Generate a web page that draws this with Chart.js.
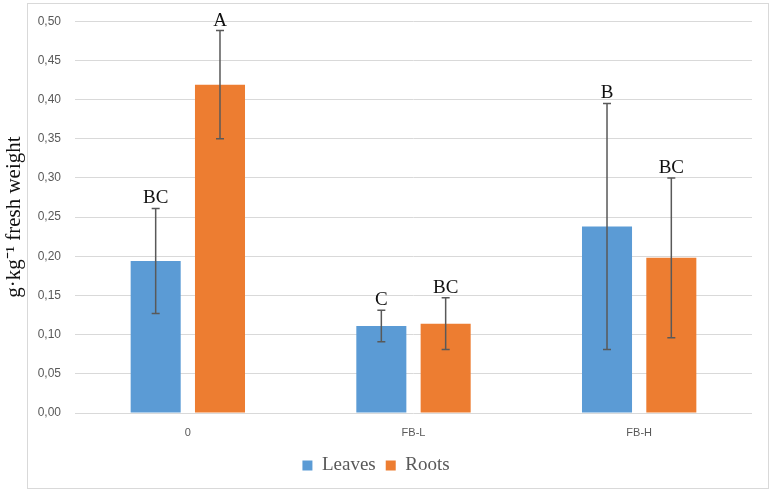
<!DOCTYPE html>
<html>
<head>
<meta charset="utf-8">
<script src="https://cdn.jsdelivr.net/npm/chart.js@4/dist/chart.umd.min.js"></script>
<style>
  html, body { margin: 0; padding: 0; background: #fff; }
  #wrap { width: 773px; height: 492px; position: relative; }
</style>
</head>
<body>
<div id="wrap"><canvas id="chart" width="773" height="492"></canvas></div>
<script>
const categories = ["0", "FB-L", "FB-H"];
const leaves = [0.194, 0.111, 0.238];
const roots = [0.419, 0.114, 0.198];
const leavesErr = [0.067, 0.020, 0.157];
const rootsErr = [0.069, 0.033, 0.102];
const leavesLetters = ["BC", "C", "B"];
const rootsLetters = ["A", "BC", "BC"];

// error bars + significance letters on top of each bar
const errorBars = {
  id: "errorBars",
  afterDatasetsDraw(chart) {
    const ctx = chart.ctx;
    const y = chart.scales.y;
    chart.data.datasets.forEach((ds, i) => {
      const meta = chart.getDatasetMeta(i);
      meta.data.forEach((bar, j) => {
        const v = ds.data[j];
        const e = ds.errors[j];
        const top = y.getPixelForValue(v + e);
        const bot = y.getPixelForValue(v - e);
        ctx.save();
        ctx.strokeStyle = "#595959";
        ctx.lineWidth = 1.5;
        ctx.beginPath();
        ctx.moveTo(bar.x, top);
        ctx.lineTo(bar.x, bot);
        ctx.moveTo(bar.x - 4, top);
        ctx.lineTo(bar.x + 4, top);
        ctx.moveTo(bar.x - 4, bot);
        ctx.lineTo(bar.x + 4, bot);
        ctx.stroke();
        ctx.fillStyle = "#111";
        ctx.font = "19px 'Liberation Serif'";
        ctx.textAlign = "center";
        ctx.textBaseline = "alphabetic";
        ctx.fillText(ds.letters[j], bar.x, top - 5);
        ctx.restore();
      });
    });
  }
};

// light frame round the chart, like the office chart border
const frame = {
  id: "frame",
  afterDraw(chart) {
    const ctx = chart.ctx;
    ctx.save();
    ctx.strokeStyle = "#d9d9d9";
    ctx.lineWidth = 1;
    ctx.strokeRect(27.5, 3.5, 741, 485);
    ctx.restore();
  }
};

new Chart(document.getElementById("chart"), {
  type: "bar",
  data: {
    labels: categories,
    datasets: [
      { label: "Leaves", data: leaves, errors: leavesErr, letters: leavesLetters,
        backgroundColor: "#5B9BD5", categoryPercentage: 0.57, barPercentage: 0.778 },
      { label: "Roots", data: roots, errors: rootsErr, letters: rootsLetters,
        backgroundColor: "#ED7D31", categoryPercentage: 0.57, barPercentage: 0.778 }
    ]
  },
  options: {
    responsive: false,
    animation: false,
    layout: { padding: { top: 20, right: 21, left: 0, bottom: 7 } },
    plugins: {
      tooltip: { enabled: false },
      legend: {
        position: "bottom",
        labels: {
          boxWidth: 10, boxHeight: 10, padding: 10,
          color: "#595959",
          font: { family: "'Liberation Serif'", size: 19 }
        }
      }
    },
    scales: {
      x: {
        afterFit(scale) { scale.height = 33; },
        grid: { display: false },
        border: { display: false },
        ticks: { color: "#595959", font: { family: "'Liberation Sans'", size: 11 }, padding: 5 }
      },
      y: {
        min: 0, max: 0.5,
        afterFit(scale) { scale.width = 75; },
        grid: { color: "#d9d9d9", drawTicks: false, lineWidth: 1 },
        border: { display: false },
        ticks: {
          stepSize: 0.05, padding: 14,
          color: "#595959",
          font: { family: "'Liberation Sans'", size: 12 },
          callback: v => v.toFixed(2).replace(".", ",")
        },
        title: {
          display: true,
          text: "g·kg⁻¹ fresh weight",
          color: "#111",
          font: { family: "'Liberation Serif'", size: 21 },
          padding: { top: 2, bottom: 0 }
        }
      }
    }
  },
  plugins: [errorBars, frame]
});
</script>
</body>
</html>
